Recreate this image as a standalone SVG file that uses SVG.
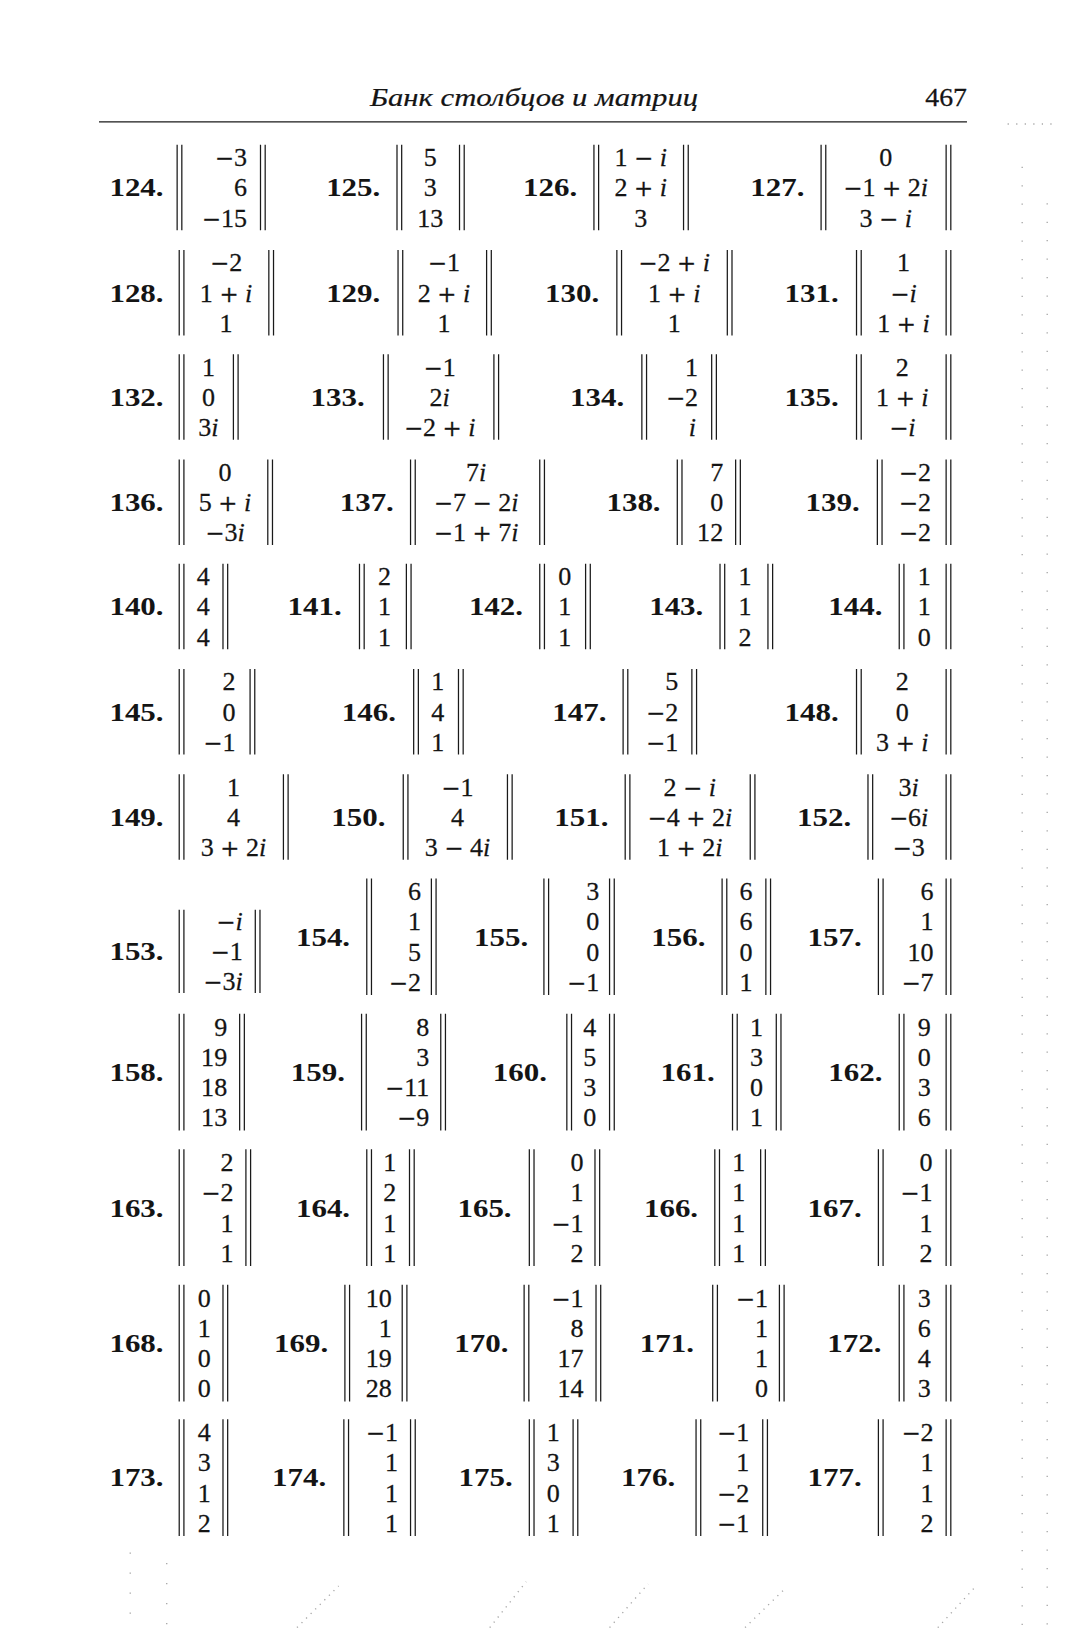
<svg xmlns="http://www.w3.org/2000/svg" width="1067" height="1631" viewBox="0 0 1067 1631">
<style>
.n{font-family:"Liberation Serif","Times New Roman",serif;font-size:25px;fill:#141414;stroke:#141414;stroke-width:0.25}
.e{text-anchor:end}
.m{text-anchor:middle}
.lb{font-family:"Liberation Serif","Times New Roman",serif;font-weight:bold;font-size:25px;fill:#141414}
.i{font-style:italic}
.o{font-family:"DejaVu Serif",serif;font-size:22px}
.bar{stroke:#1a1a1a;stroke-width:1.2;fill:none}
.hd{font-family:"Liberation Serif","Times New Roman",serif;font-style:italic;font-size:25px;fill:#141414;stroke:#141414;stroke-width:0.2}
.dot{stroke:#a8a8a8;stroke-width:1.3;fill:none}
</style>
<rect width="1067" height="1631" fill="#ffffff"/>
<g transform="scale(1.04199)">
<g id="header">
<text class="hd" x="355" y="102" textLength="315" lengthAdjust="spacingAndGlyphs">Банк столбцов и матриц</text>
<text class="n" x="888" y="102" textLength="40" lengthAdjust="spacingAndGlyphs">467</text>
<line x1="95" y1="117" x2="928" y2="117" stroke="#1a1a1a" stroke-width="1.1"/>
</g>
<g id="scan-dots">
<path class="dot" stroke-dasharray="1.2 16.5" d="M981 160V1565M1005 195V1565"/>
<path class="dot" stroke-dasharray="1.2 7" d="M967 119H1015"/>
<path class="dot" stroke-dasharray="1.2 5" d="M285 1562L325 1522M470 1562L505 1518M585 1562L622 1520M715 1562L752 1526M900 1562L935 1524"/>
<path class="dot" stroke-dasharray="1.2 18" d="M125 1490V1565M160 1500V1565"/>
</g>

<!-- Row 1 yc=180 -->
<g id="v124">
<text class="lb" x="105" y="188.5" textLength="52" lengthAdjust="spacingAndGlyphs">124.</text>
<path class="bar" d="M170 139V221M174.5 139V221M250 139V221M254.5 139V221"/>
<text class="n e" x="237" y="159.5"><tspan class="o">−</tspan>3</text>
<text class="n e" x="237" y="188.5">6</text>
<text class="n e" x="237" y="217.5"><tspan class="o">−</tspan>15</text>
</g>
<g id="v125">
<text class="lb" x="313" y="188.5" textLength="52" lengthAdjust="spacingAndGlyphs">125.</text>
<path class="bar" d="M381 139V221M385.5 139V221M441 139V221M445.5 139V221"/>
<text class="n m" x="413" y="159.5">5</text>
<text class="n m" x="413" y="188.5">3</text>
<text class="n m" x="413" y="217.5">13</text>
</g>
<g id="v126">
<text class="lb" x="502" y="188.5" textLength="52" lengthAdjust="spacingAndGlyphs">126.</text>
<path class="bar" d="M570 139V221M574.5 139V221M656 139V221M660.5 139V221"/>
<text class="n m" x="615" y="159.5">1 <tspan class="o">−</tspan> <tspan class="i">i</tspan></text>
<text class="n m" x="615" y="188.5">2 <tspan class="o">+</tspan> <tspan class="i">i</tspan></text>
<text class="n m" x="615" y="217.5">3</text>
</g>
<g id="v127">
<text class="lb" x="720" y="188.5" textLength="52" lengthAdjust="spacingAndGlyphs">127.</text>
<path class="bar" d="M788 139V221M792.5 139V221M908 139V221M912.5 139V221"/>
<text class="n m" x="850" y="159.5">0</text>
<text class="n m" x="850" y="188.5"><tspan class="o">−</tspan>1 <tspan class="o">+</tspan> 2<tspan class="i">i</tspan></text>
<text class="n m" x="850" y="217.5">3 <tspan class="o">−</tspan> <tspan class="i">i</tspan></text>
</g>

<!-- Row 2 yc=281 -->
<g id="v128">
<text class="lb" x="105" y="289.5" textLength="52" lengthAdjust="spacingAndGlyphs">128.</text>
<path class="bar" d="M172 240V322M176.5 240V322M258 240V322M262.5 240V322"/>
<text class="n m" x="217" y="260.5"><tspan class="o">−</tspan>2</text>
<text class="n m" x="217" y="289.5">1 <tspan class="o">+</tspan> <tspan class="i">i</tspan></text>
<text class="n m" x="217" y="318.5">1</text>
</g>
<g id="v129">
<text class="lb" x="313" y="289.5" textLength="52" lengthAdjust="spacingAndGlyphs">129.</text>
<path class="bar" d="M382 240V322M386.5 240V322M467 240V322M471.5 240V322"/>
<text class="n m" x="426" y="260.5"><tspan class="o">−</tspan>1</text>
<text class="n m" x="426" y="289.5">2 <tspan class="o">+</tspan> <tspan class="i">i</tspan></text>
<text class="n m" x="426" y="318.5">1</text>
</g>
<g id="v130">
<text class="lb" x="523" y="289.5" textLength="52" lengthAdjust="spacingAndGlyphs">130.</text>
<path class="bar" d="M592 240V322M596.5 240V322M698 240V322M702.5 240V322"/>
<text class="n m" x="647" y="260.5"><tspan class="o">−</tspan>2 <tspan class="o">+</tspan> <tspan class="i">i</tspan></text>
<text class="n m" x="647" y="289.5">1 <tspan class="o">+</tspan> <tspan class="i">i</tspan></text>
<text class="n m" x="647" y="318.5">1</text>
</g>
<g id="v131">
<text class="lb" x="753" y="289.5" textLength="52" lengthAdjust="spacingAndGlyphs">131.</text>
<path class="bar" d="M822 240V322M826.5 240V322M908 240V322M912.5 240V322"/>
<text class="n m" x="867" y="260.5">1</text>
<text class="n m" x="867" y="289.5"><tspan class="o">−</tspan><tspan class="i">i</tspan></text>
<text class="n m" x="867" y="318.5">1 <tspan class="o">+</tspan> <tspan class="i">i</tspan></text>
</g>

<!-- Row 3 yc=381 -->
<g id="v132">
<text class="lb" x="105" y="389.5" textLength="52" lengthAdjust="spacingAndGlyphs">132.</text>
<path class="bar" d="M172 340V422M176.5 340V422M224 340V422M228.5 340V422"/>
<text class="n m" x="200" y="360.5">1</text>
<text class="n m" x="200" y="389.5">0</text>
<text class="n m" x="200" y="418.5">3<tspan class="i">i</tspan></text>
</g>
<g id="v133">
<text class="lb" x="298" y="389.5" textLength="52" lengthAdjust="spacingAndGlyphs">133.</text>
<path class="bar" d="M368 340V422M372.5 340V422M474 340V422M478.5 340V422"/>
<text class="n m" x="422" y="360.5"><tspan class="o">−</tspan>1</text>
<text class="n m" x="422" y="389.5">2<tspan class="i">i</tspan></text>
<text class="n m" x="422" y="418.5"><tspan class="o">−</tspan>2 <tspan class="o">+</tspan> <tspan class="i">i</tspan></text>
</g>
<g id="v134">
<text class="lb" x="547" y="389.5" textLength="52" lengthAdjust="spacingAndGlyphs">134.</text>
<path class="bar" d="M616 340V422M620.5 340V422M683 340V422M687.5 340V422"/>
<text class="n e" x="670" y="360.5">1</text>
<text class="n e" x="670" y="389.5"><tspan class="o">−</tspan>2</text>
<text class="n e" x="668" y="418.5"><tspan class="i">i</tspan></text>
</g>
<g id="v135">
<text class="lb" x="753" y="389.5" textLength="52" lengthAdjust="spacingAndGlyphs">135.</text>
<path class="bar" d="M822 340V422M826.5 340V422M908 340V422M912.5 340V422"/>
<text class="n m" x="866" y="360.5">2</text>
<text class="n m" x="866" y="389.5">1 <tspan class="o">+</tspan> <tspan class="i">i</tspan></text>
<text class="n m" x="866" y="418.5"><tspan class="o">−</tspan><tspan class="i">i</tspan></text>
</g>

<!-- Row 4 yc=482 -->
<g id="v136">
<text class="lb" x="105" y="490.5" textLength="52" lengthAdjust="spacingAndGlyphs">136.</text>
<path class="bar" d="M172 441V523M176.5 441V523M257 441V523M261.5 441V523"/>
<text class="n m" x="216" y="461.5">0</text>
<text class="n m" x="216" y="490.5">5 <tspan class="o">+</tspan> <tspan class="i">i</tspan></text>
<text class="n m" x="216" y="519.5"><tspan class="o">−</tspan>3<tspan class="i">i</tspan></text>
</g>
<g id="v137">
<text class="lb" x="326" y="490.5" textLength="52" lengthAdjust="spacingAndGlyphs">137.</text>
<path class="bar" d="M394 441V523M398.5 441V523M518 441V523M522.5 441V523"/>
<text class="n m" x="457" y="461.5">7<tspan class="i">i</tspan></text>
<text class="n m" x="457" y="490.5"><tspan class="o">−</tspan>7 <tspan class="o">−</tspan> 2<tspan class="i">i</tspan></text>
<text class="n m" x="457" y="519.5"><tspan class="o">−</tspan>1 <tspan class="o">+</tspan> 7<tspan class="i">i</tspan></text>
</g>
<g id="v138">
<text class="lb" x="582" y="490.5" textLength="52" lengthAdjust="spacingAndGlyphs">138.</text>
<path class="bar" d="M650 441V523M654.5 441V523M706 441V523M710.5 441V523"/>
<text class="n e" x="694" y="461.5">7</text>
<text class="n e" x="694" y="490.5">0</text>
<text class="n e" x="694" y="519.5">12</text>
</g>
<g id="v139">
<text class="lb" x="773" y="490.5" textLength="52" lengthAdjust="spacingAndGlyphs">139.</text>
<path class="bar" d="M842 441V523M846.5 441V523M908 441V523M912.5 441V523"/>
<text class="n m" x="878" y="461.5"><tspan class="o">−</tspan>2</text>
<text class="n m" x="878" y="490.5"><tspan class="o">−</tspan>2</text>
<text class="n m" x="878" y="519.5"><tspan class="o">−</tspan>2</text>
</g>

<!-- Row 5 yc=582 -->
<g id="v140">
<text class="lb" x="105" y="590.5" textLength="52" lengthAdjust="spacingAndGlyphs">140.</text>
<path class="bar" d="M172 541V623M176.5 541V623M214 541V623M218.5 541V623"/>
<text class="n m" x="195" y="561.5">4</text>
<text class="n m" x="195" y="590.5">4</text>
<text class="n m" x="195" y="619.5">4</text>
</g>
<g id="v141">
<text class="lb" x="276" y="590.5" textLength="52" lengthAdjust="spacingAndGlyphs">141.</text>
<path class="bar" d="M345 541V623M349.5 541V623M390 541V623M394.5 541V623"/>
<text class="n m" x="369" y="561.5">2</text>
<text class="n m" x="369" y="590.5">1</text>
<text class="n m" x="369" y="619.5">1</text>
</g>
<g id="v142">
<text class="lb" x="450" y="590.5" textLength="52" lengthAdjust="spacingAndGlyphs">142.</text>
<path class="bar" d="M518 541V623M522.5 541V623M562 541V623M566.5 541V623"/>
<text class="n m" x="542" y="561.5">0</text>
<text class="n m" x="542" y="590.5">1</text>
<text class="n m" x="542" y="619.5">1</text>
</g>
<g id="v143">
<text class="lb" x="623" y="590.5" textLength="52" lengthAdjust="spacingAndGlyphs">143.</text>
<path class="bar" d="M691 541V623M695.5 541V623M737 541V623M741.5 541V623"/>
<text class="n m" x="715" y="561.5">1</text>
<text class="n m" x="715" y="590.5">1</text>
<text class="n m" x="715" y="619.5">2</text>
</g>
<g id="v144">
<text class="lb" x="795" y="590.5" textLength="52" lengthAdjust="spacingAndGlyphs">144.</text>
<path class="bar" d="M863 541V623M867.5 541V623M908 541V623M912.5 541V623"/>
<text class="n m" x="887" y="561.5">1</text>
<text class="n m" x="887" y="590.5">1</text>
<text class="n m" x="887" y="619.5">0</text>
</g>

<!-- Row 6 yc=683 -->
<g id="v145">
<text class="lb" x="105" y="691.5" textLength="52" lengthAdjust="spacingAndGlyphs">145.</text>
<path class="bar" d="M172 642V724M176.5 642V724M240 642V724M244.5 642V724"/>
<text class="n e" x="226" y="662.5">2</text>
<text class="n e" x="226" y="691.5">0</text>
<text class="n e" x="226" y="720.5"><tspan class="o">−</tspan>1</text>
</g>
<g id="v146">
<text class="lb" x="328" y="691.5" textLength="52" lengthAdjust="spacingAndGlyphs">146.</text>
<path class="bar" d="M397 642V724M401.5 642V724M440 642V724M444.5 642V724"/>
<text class="n m" x="420" y="662.5">1</text>
<text class="n m" x="420" y="691.5">4</text>
<text class="n m" x="420" y="720.5">1</text>
</g>
<g id="v147">
<text class="lb" x="530" y="691.5" textLength="52" lengthAdjust="spacingAndGlyphs">147.</text>
<path class="bar" d="M598 642V724M602.5 642V724M664 642V724M668.5 642V724"/>
<text class="n e" x="651" y="662.5">5</text>
<text class="n e" x="651" y="691.5"><tspan class="o">−</tspan>2</text>
<text class="n e" x="651" y="720.5"><tspan class="o">−</tspan>1</text>
</g>
<g id="v148">
<text class="lb" x="753" y="691.5" textLength="52" lengthAdjust="spacingAndGlyphs">148.</text>
<path class="bar" d="M822 642V724M826.5 642V724M908 642V724M912.5 642V724"/>
<text class="n m" x="866" y="662.5">2</text>
<text class="n m" x="866" y="691.5">0</text>
<text class="n m" x="866" y="720.5">3 <tspan class="o">+</tspan> <tspan class="i">i</tspan></text>
</g>

<!-- Row 7 yc=784 -->
<g id="v149">
<text class="lb" x="105" y="792.5" textLength="52" lengthAdjust="spacingAndGlyphs">149.</text>
<path class="bar" d="M172 743V825M176.5 743V825M272 743V825M276.5 743V825"/>
<text class="n m" x="224" y="763.5">1</text>
<text class="n m" x="224" y="792.5">4</text>
<text class="n m" x="224" y="821.5">3 <tspan class="o">+</tspan> 2<tspan class="i">i</tspan></text>
</g>
<g id="v150">
<text class="lb" x="318" y="792.5" textLength="52" lengthAdjust="spacingAndGlyphs">150.</text>
<path class="bar" d="M387 743V825M391.5 743V825M487 743V825M491.5 743V825"/>
<text class="n m" x="439" y="763.5"><tspan class="o">−</tspan>1</text>
<text class="n m" x="439" y="792.5">4</text>
<text class="n m" x="439" y="821.5">3 <tspan class="o">−</tspan> 4<tspan class="i">i</tspan></text>
</g>
<g id="v151">
<text class="lb" x="532" y="792.5" textLength="52" lengthAdjust="spacingAndGlyphs">151.</text>
<path class="bar" d="M600 743V825M604.5 743V825M720 743V825M724.5 743V825"/>
<text class="n m" x="662" y="763.5">2 <tspan class="o">−</tspan> <tspan class="i">i</tspan></text>
<text class="n m" x="662" y="792.5"><tspan class="o">−</tspan>4 <tspan class="o">+</tspan> 2<tspan class="i">i</tspan></text>
<text class="n m" x="662" y="821.5">1 <tspan class="o">+</tspan> 2<tspan class="i">i</tspan></text>
</g>
<g id="v152">
<text class="lb" x="765" y="792.5" textLength="52" lengthAdjust="spacingAndGlyphs">152.</text>
<path class="bar" d="M833 743V825M837.5 743V825M908 743V825M912.5 743V825"/>
<text class="n m" x="872" y="763.5">3<tspan class="i">i</tspan></text>
<text class="n m" x="872" y="792.5"><tspan class="o">−</tspan>6<tspan class="i">i</tspan></text>
<text class="n m" x="872" y="821.5"><tspan class="o">−</tspan>3</text>
</g>

<!-- Row 8 -->
<g id="v153">
<text class="lb" x="105" y="921.5" textLength="52" lengthAdjust="spacingAndGlyphs">153.</text>
<path class="bar" d="M172 873V953M176.5 873V953M245 873V953M249.5 873V953"/>
<text class="n e" x="233" y="892.5"><tspan class="o">−</tspan><tspan class="i">i</tspan></text>
<text class="n e" x="233" y="921.5"><tspan class="o">−</tspan>1</text>
<text class="n e" x="233" y="950.5"><tspan class="o">−</tspan>3<tspan class="i">i</tspan></text>
</g>
<g id="v154">
<text class="lb" x="284" y="907.5" textLength="52" lengthAdjust="spacingAndGlyphs">154.</text>
<path class="bar" d="M352 843V955M356.5 843V955M414 843V955M418.5 843V955"/>
<text class="n e" x="404" y="864">6</text>
<text class="n e" x="404" y="893">1</text>
<text class="n e" x="404" y="922">5</text>
<text class="n e" x="404" y="951"><tspan class="o">−</tspan>2</text>
</g>
<g id="v155">
<text class="lb" x="455" y="907.5" textLength="52" lengthAdjust="spacingAndGlyphs">155.</text>
<path class="bar" d="M522 843V955M526.5 843V955M585 843V955M589.5 843V955"/>
<text class="n e" x="575" y="864">3</text>
<text class="n e" x="575" y="893">0</text>
<text class="n e" x="575" y="922">0</text>
<text class="n e" x="575" y="951"><tspan class="o">−</tspan>1</text>
</g>
<g id="v156">
<text class="lb" x="625" y="907.5" textLength="52" lengthAdjust="spacingAndGlyphs">156.</text>
<path class="bar" d="M693 843V955M697.5 843V955M735 843V955M739.5 843V955"/>
<text class="n m" x="716" y="864">6</text>
<text class="n m" x="716" y="893">6</text>
<text class="n m" x="716" y="922">0</text>
<text class="n m" x="716" y="951">1</text>
</g>
<g id="v157">
<text class="lb" x="775" y="907.5" textLength="52" lengthAdjust="spacingAndGlyphs">157.</text>
<path class="bar" d="M843 843V955M847.5 843V955M908 843V955M912.5 843V955"/>
<text class="n e" x="896" y="864">6</text>
<text class="n e" x="896" y="893">1</text>
<text class="n e" x="896" y="922">10</text>
<text class="n e" x="896" y="951"><tspan class="o">−</tspan>7</text>
</g>

<!-- Row 9 yc=1029 -->
<g id="v158">
<text class="lb" x="105" y="1037.5" textLength="52" lengthAdjust="spacingAndGlyphs">158.</text>
<path class="bar" d="M172 973V1085M176.5 973V1085M230 973V1085M234.5 973V1085"/>
<text class="n e" x="218" y="994">9</text>
<text class="n e" x="218" y="1023">19</text>
<text class="n e" x="218" y="1052">18</text>
<text class="n e" x="218" y="1081">13</text>
</g>
<g id="v159">
<text class="lb" x="279" y="1037.5" textLength="52" lengthAdjust="spacingAndGlyphs">159.</text>
<path class="bar" d="M347 973V1085M351.5 973V1085M423 973V1085M427.5 973V1085"/>
<text class="n e" x="412" y="994">8</text>
<text class="n e" x="412" y="1023">3</text>
<text class="n e" x="412" y="1052"><tspan class="o">−</tspan>11</text>
<text class="n e" x="412" y="1081"><tspan class="o">−</tspan>9</text>
</g>
<g id="v160">
<text class="lb" x="473" y="1037.5" textLength="52" lengthAdjust="spacingAndGlyphs">160.</text>
<path class="bar" d="M544 973V1085M548.5 973V1085M585 973V1085M589.5 973V1085"/>
<text class="n m" x="566" y="994">4</text>
<text class="n m" x="566" y="1023">5</text>
<text class="n m" x="566" y="1052">3</text>
<text class="n m" x="566" y="1081">0</text>
</g>
<g id="v161">
<text class="lb" x="634" y="1037.5" textLength="52" lengthAdjust="spacingAndGlyphs">161.</text>
<path class="bar" d="M703 973V1085M707.5 973V1085M745 973V1085M749.5 973V1085"/>
<text class="n m" x="726" y="994">1</text>
<text class="n m" x="726" y="1023">3</text>
<text class="n m" x="726" y="1052">0</text>
<text class="n m" x="726" y="1081">1</text>
</g>
<g id="v162">
<text class="lb" x="795" y="1037.5" textLength="52" lengthAdjust="spacingAndGlyphs">162.</text>
<path class="bar" d="M863 973V1085M867.5 973V1085M908 973V1085M912.5 973V1085"/>
<text class="n m" x="887" y="994">9</text>
<text class="n m" x="887" y="1023">0</text>
<text class="n m" x="887" y="1052">3</text>
<text class="n m" x="887" y="1081">6</text>
</g>

<!-- Row 10 yc=1159 -->
<g id="v163">
<text class="lb" x="105" y="1167.5" textLength="52" lengthAdjust="spacingAndGlyphs">163.</text>
<path class="bar" d="M172 1103V1215M176.5 1103V1215M236 1103V1215M240.5 1103V1215"/>
<text class="n e" x="224" y="1124">2</text>
<text class="n e" x="224" y="1153"><tspan class="o">−</tspan>2</text>
<text class="n e" x="224" y="1182">1</text>
<text class="n e" x="224" y="1211">1</text>
</g>
<g id="v164">
<text class="lb" x="284" y="1167.5" textLength="52" lengthAdjust="spacingAndGlyphs">164.</text>
<path class="bar" d="M352 1103V1215M356.5 1103V1215M393 1103V1215M397.5 1103V1215"/>
<text class="n m" x="374" y="1124">1</text>
<text class="n m" x="374" y="1153">2</text>
<text class="n m" x="374" y="1182">1</text>
<text class="n m" x="374" y="1211">1</text>
</g>
<g id="v165">
<text class="lb" x="439" y="1167.5" textLength="52" lengthAdjust="spacingAndGlyphs">165.</text>
<path class="bar" d="M508 1103V1215M512.5 1103V1215M571 1103V1215M575.5 1103V1215"/>
<text class="n e" x="560" y="1124">0</text>
<text class="n e" x="560" y="1153">1</text>
<text class="n e" x="560" y="1182"><tspan class="o">−</tspan>1</text>
<text class="n e" x="560" y="1211">2</text>
</g>
<g id="v166">
<text class="lb" x="618" y="1167.5" textLength="52" lengthAdjust="spacingAndGlyphs">166.</text>
<path class="bar" d="M686 1103V1215M690.5 1103V1215M730 1103V1215M734.5 1103V1215"/>
<text class="n m" x="709" y="1124">1</text>
<text class="n m" x="709" y="1153">1</text>
<text class="n m" x="709" y="1182">1</text>
<text class="n m" x="709" y="1211">1</text>
</g>
<g id="v167">
<text class="lb" x="775" y="1167.5" textLength="52" lengthAdjust="spacingAndGlyphs">167.</text>
<path class="bar" d="M843 1103V1215M847.5 1103V1215M908 1103V1215M912.5 1103V1215"/>
<text class="n e" x="895" y="1124">0</text>
<text class="n e" x="895" y="1153"><tspan class="o">−</tspan>1</text>
<text class="n e" x="895" y="1182">1</text>
<text class="n e" x="895" y="1211">2</text>
</g>

<!-- Row 11 yc=1289 -->
<g id="v168">
<text class="lb" x="105" y="1297.5" textLength="52" lengthAdjust="spacingAndGlyphs">168.</text>
<path class="bar" d="M172 1233V1345M176.5 1233V1345M214 1233V1345M218.5 1233V1345"/>
<text class="n m" x="196" y="1254">0</text>
<text class="n m" x="196" y="1283">1</text>
<text class="n m" x="196" y="1312">0</text>
<text class="n m" x="196" y="1341">0</text>
</g>
<g id="v169">
<text class="lb" x="263" y="1297.5" textLength="52" lengthAdjust="spacingAndGlyphs">169.</text>
<path class="bar" d="M331 1233V1345M335.5 1233V1345M386 1233V1345M390.5 1233V1345"/>
<text class="n e" x="376" y="1254">10</text>
<text class="n e" x="376" y="1283">1</text>
<text class="n e" x="376" y="1312">19</text>
<text class="n e" x="376" y="1341">28</text>
</g>
<g id="v170">
<text class="lb" x="436" y="1297.5" textLength="52" lengthAdjust="spacingAndGlyphs">170.</text>
<path class="bar" d="M503 1233V1345M507.5 1233V1345M572 1233V1345M576.5 1233V1345"/>
<text class="n e" x="560" y="1254"><tspan class="o">−</tspan>1</text>
<text class="n e" x="560" y="1283">8</text>
<text class="n e" x="560" y="1312">17</text>
<text class="n e" x="560" y="1341">14</text>
</g>
<g id="v171">
<text class="lb" x="614" y="1297.5" textLength="52" lengthAdjust="spacingAndGlyphs">171.</text>
<path class="bar" d="M684 1233V1345M688.5 1233V1345M748 1233V1345M752.5 1233V1345"/>
<text class="n e" x="737" y="1254"><tspan class="o">−</tspan>1</text>
<text class="n e" x="737" y="1283">1</text>
<text class="n e" x="737" y="1312">1</text>
<text class="n e" x="737" y="1341">0</text>
</g>
<g id="v172">
<text class="lb" x="794" y="1297.5" textLength="52" lengthAdjust="spacingAndGlyphs">172.</text>
<path class="bar" d="M863 1233V1345M867.5 1233V1345M908 1233V1345M912.5 1233V1345"/>
<text class="n m" x="887" y="1254">3</text>
<text class="n m" x="887" y="1283">6</text>
<text class="n m" x="887" y="1312">4</text>
<text class="n m" x="887" y="1341">3</text>
</g>

<!-- Row 12 yc=1418 -->
<g id="v173">
<text class="lb" x="105" y="1426.5" textLength="52" lengthAdjust="spacingAndGlyphs">173.</text>
<path class="bar" d="M172 1362V1474M176.5 1362V1474M214 1362V1474M218.5 1362V1474"/>
<text class="n m" x="196" y="1383">4</text>
<text class="n m" x="196" y="1412">3</text>
<text class="n m" x="196" y="1441">1</text>
<text class="n m" x="196" y="1470">2</text>
</g>
<g id="v174">
<text class="lb" x="261" y="1426.5" textLength="52" lengthAdjust="spacingAndGlyphs">174.</text>
<path class="bar" d="M330 1362V1474M334.5 1362V1474M394 1362V1474M398.5 1362V1474"/>
<text class="n e" x="382" y="1383"><tspan class="o">−</tspan>1</text>
<text class="n e" x="382" y="1412">1</text>
<text class="n e" x="382" y="1441">1</text>
<text class="n e" x="382" y="1470">1</text>
</g>
<g id="v175">
<text class="lb" x="440" y="1426.5" textLength="52" lengthAdjust="spacingAndGlyphs">175.</text>
<path class="bar" d="M508 1362V1474M512.5 1362V1474M550 1362V1474M554.5 1362V1474"/>
<text class="n m" x="531" y="1383">1</text>
<text class="n m" x="531" y="1412">3</text>
<text class="n m" x="531" y="1441">0</text>
<text class="n m" x="531" y="1470">1</text>
</g>
<g id="v176">
<text class="lb" x="596" y="1426.5" textLength="52" lengthAdjust="spacingAndGlyphs">176.</text>
<path class="bar" d="M668 1362V1474M672.5 1362V1474M732 1362V1474M736.5 1362V1474"/>
<text class="n e" x="719" y="1383"><tspan class="o">−</tspan>1</text>
<text class="n e" x="719" y="1412">1</text>
<text class="n e" x="719" y="1441"><tspan class="o">−</tspan>2</text>
<text class="n e" x="719" y="1470"><tspan class="o">−</tspan>1</text>
</g>
<g id="v177">
<text class="lb" x="775" y="1426.5" textLength="52" lengthAdjust="spacingAndGlyphs">177.</text>
<path class="bar" d="M843 1362V1474M847.5 1362V1474M908 1362V1474M912.5 1362V1474"/>
<text class="n e" x="896" y="1383"><tspan class="o">−</tspan>2</text>
<text class="n e" x="896" y="1412">1</text>
<text class="n e" x="896" y="1441">1</text>
<text class="n e" x="896" y="1470">2</text>
</g>
</g>
</svg>
